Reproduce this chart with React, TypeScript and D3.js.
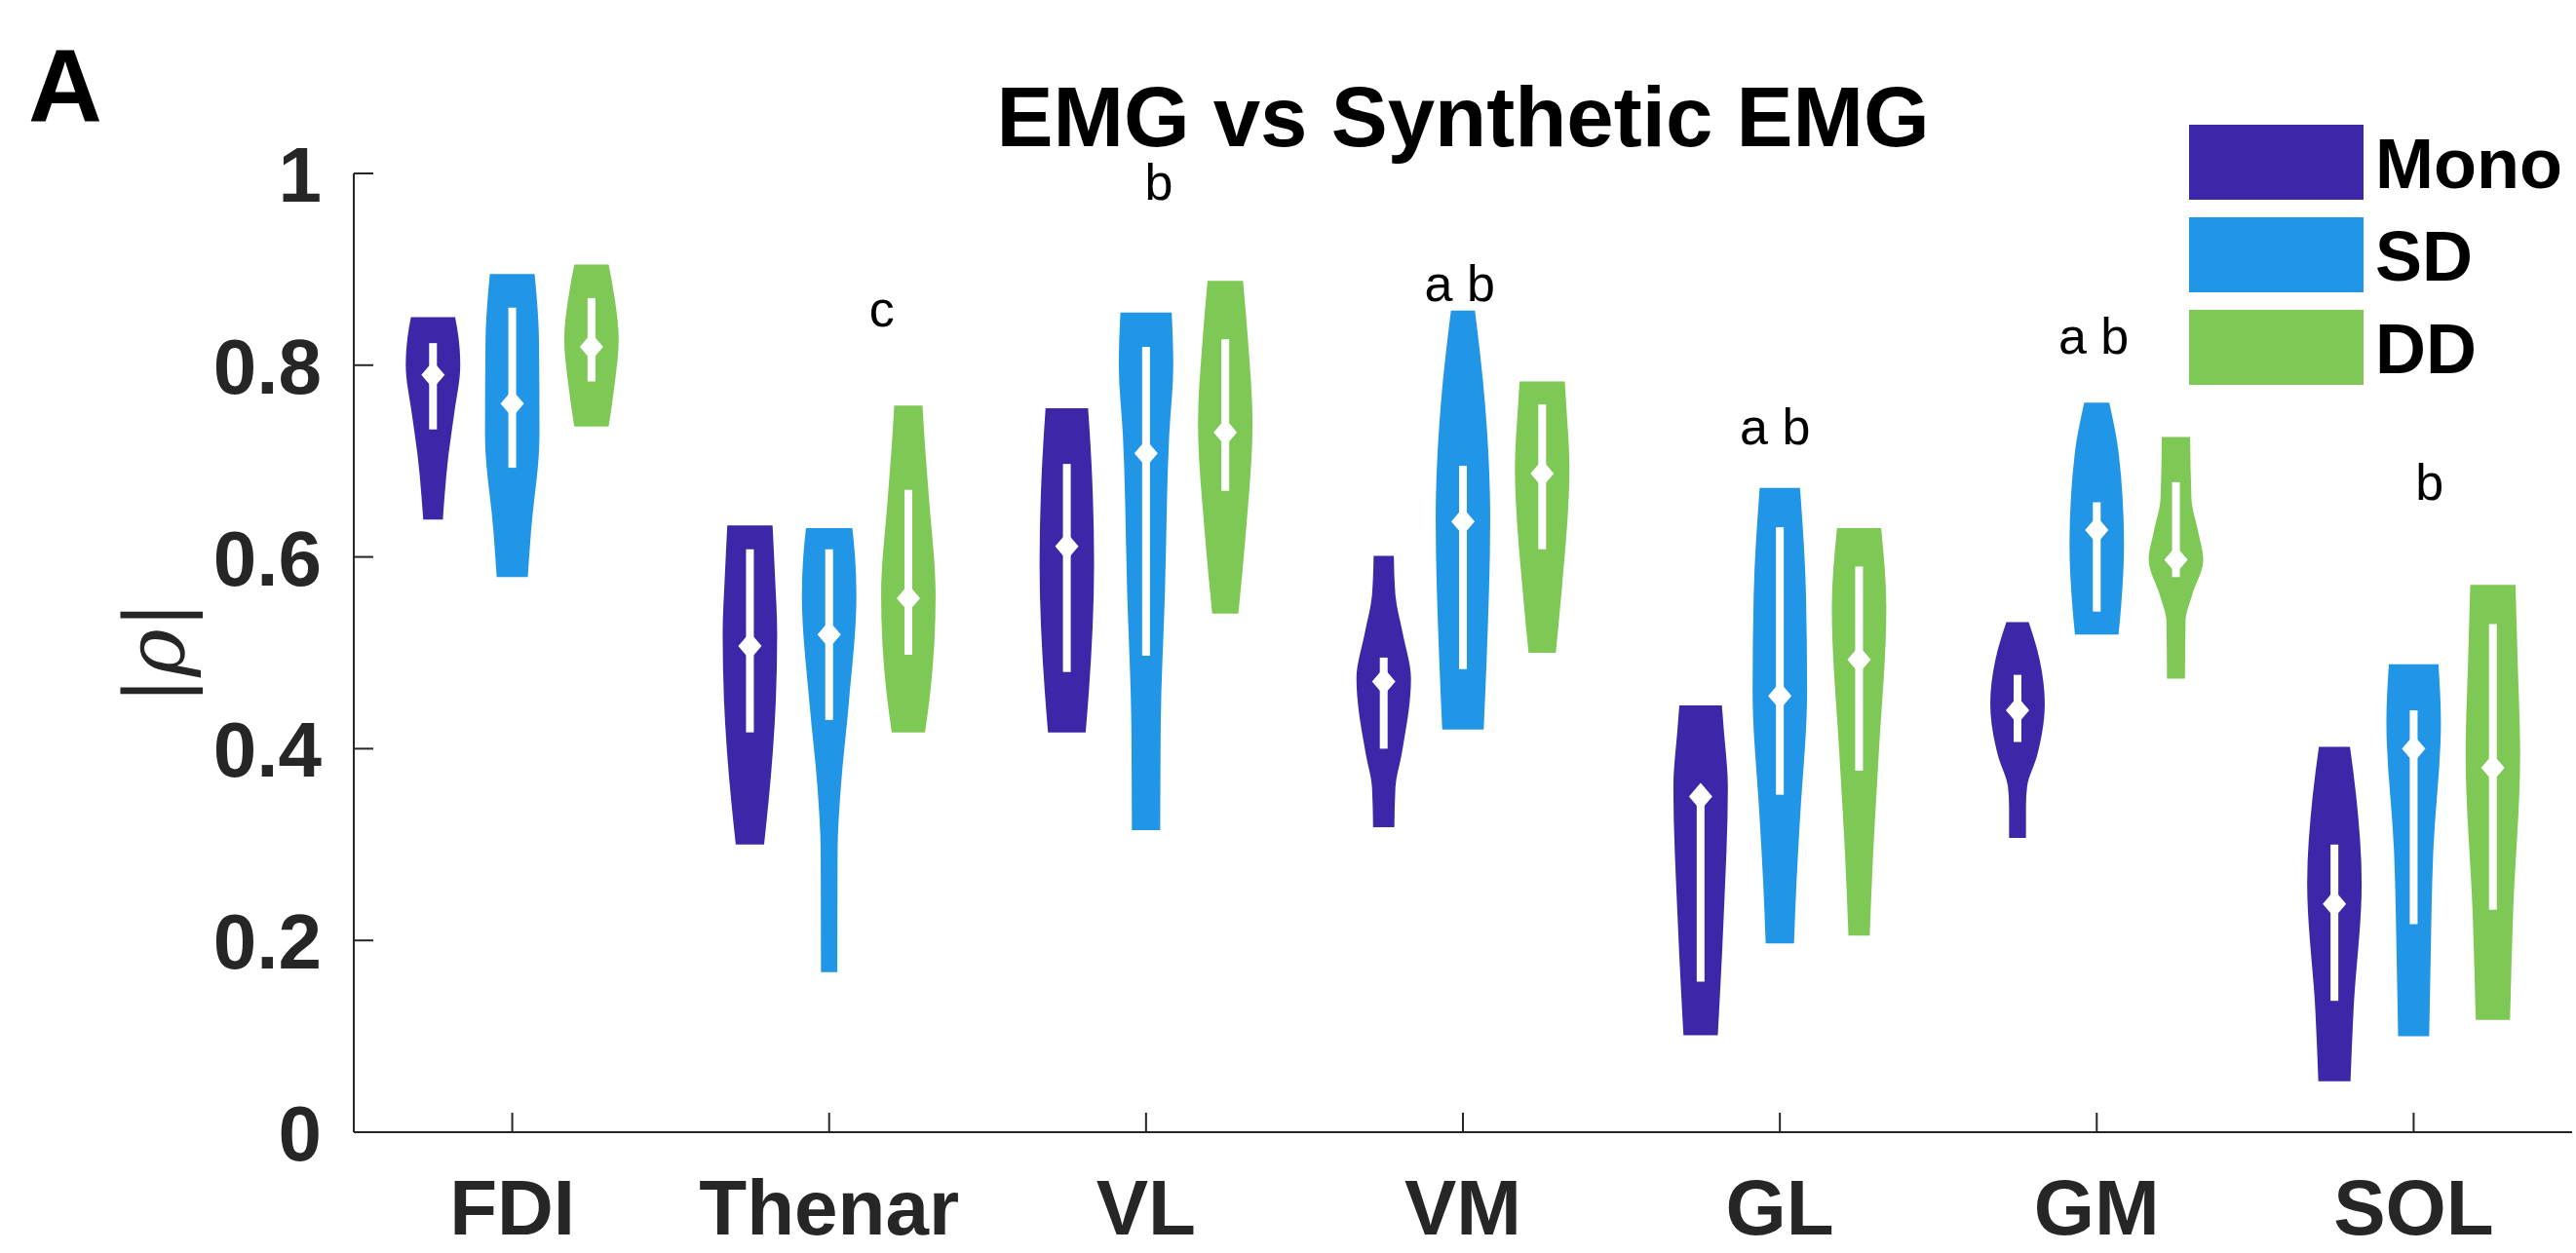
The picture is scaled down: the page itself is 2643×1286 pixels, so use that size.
import React from 'react';
import * as d3 from 'd3';

// ---------- data ----------
const categories = ['FDI', 'Thenar', 'VL', 'VM', 'GL', 'GM', 'SOL'];
const seriesNames = ['Mono', 'SD', 'DD'];
const seriesColors = ['#3E26A8', '#2196E6', '#7EC856'];
const seriesOffsets = [-0.25, 0, 0.25];
const yTicks = [0, 0.2, 0.4, 0.6, 0.8, 1];
const yTickLabels = ['0', '0.2', '0.4', '0.6', '0.8', '1'];

// violin outlines: [value, relative half-width]
const monoProfiles: [number, number][][] = [
  [[0.639, 0.36], [0.707, 0.57], [0.75, 0.78], [0.80, 1.0], [0.83, 0.93], [0.85, 0.81]],
  [[0.30, 0.52], [0.393, 0.83], [0.45, 0.95], [0.52, 1.0], [0.58, 0.92], [0.633, 0.83]],
  [[0.417, 0.69], [0.46, 0.81], [0.593, 1.0], [0.70, 0.9], [0.755, 0.78]],
  [[0.318, 0.39], [0.36, 0.43], [0.393, 0.65], [0.473, 1.0], [0.52, 0.7], [0.56, 0.43], [0.601, 0.37]],
  [[0.101, 0.63], [0.227, 0.85], [0.36, 1.0], [0.42, 0.85], [0.445, 0.78]],
  [[0.307, 0.31], [0.34, 0.31], [0.36, 0.35], [0.393, 0.72], [0.447, 1.0], [0.493, 0.81], [0.532, 0.41]],
  [[0.053, 0.59], [0.127, 0.7], [0.26, 1.0], [0.35, 0.8], [0.402, 0.57]],
];
const sdProfiles: [number, number][][] = [
  [[0.579, 0.57], [0.627, 0.69], [0.727, 1.0], [0.827, 0.98], [0.87, 0.9], [0.895, 0.82]],
  [[0.167, 0.30], [0.293, 0.31], [0.36, 0.43], [0.447, 0.72], [0.56, 1.0], [0.60, 0.95], [0.63, 0.85]],
  [[0.315, 0.52], [0.427, 0.54], [0.56, 0.69], [0.727, 0.85], [0.80, 1.0], [0.855, 0.94]],
  [[0.42, 0.76], [0.493, 0.87], [0.64, 1.0], [0.76, 0.81], [0.857, 0.44]],
  [[0.197, 0.52], [0.26, 0.61], [0.327, 0.74], [0.46, 1.0], [0.56, 0.96], [0.672, 0.74]],
  [[0.519, 0.8], [0.547, 0.89], [0.613, 1.0], [0.707, 0.81], [0.761, 0.46]],
  [[0.10, 0.57], [0.16, 0.61], [0.293, 0.72], [0.427, 1.0], [0.488, 0.91]],
];
const ddProfiles: [number, number][][] = [
  [[0.736, 0.63], [0.78, 0.85], [0.827, 1.0], [0.87, 0.85], [0.905, 0.63]],
  [[0.417, 0.61], [0.46, 0.81], [0.56, 1.0], [0.66, 0.76], [0.72, 0.6], [0.758, 0.52]],
  [[0.541, 0.48], [0.627, 0.76], [0.74, 1.0], [0.82, 0.85], [0.888, 0.65]],
  [[0.50, 0.5], [0.56, 0.7], [0.693, 1.0], [0.76, 0.88], [0.783, 0.83]],
  [[0.205, 0.39], [0.293, 0.52], [0.393, 0.72], [0.547, 1.0], [0.63, 0.81]],
  [[0.473, 0.33], [0.533, 0.35], [0.56, 0.59], [0.597, 1.0], [0.627, 0.81], [0.66, 0.57], [0.725, 0.52]],
  [[0.117, 0.63], [0.227, 0.74], [0.393, 1.0], [0.50, 0.9], [0.571, 0.83]],
];

// [lower quartile, median, upper quartile]
const monoStats = [
  [0.733, 0.79, 0.823], [0.417, 0.507, 0.608], [0.48, 0.611, 0.697], [0.40, 0.47, 0.495],
  [0.157, 0.35, 0.36], [0.407, 0.44, 0.477], [0.137, 0.238, 0.30],
];
const sdStats = [
  [0.693, 0.76, 0.86], [0.43, 0.519, 0.608], [0.497, 0.708, 0.819], [0.483, 0.637, 0.695],
  [0.352, 0.455, 0.631], [0.543, 0.628, 0.657], [0.217, 0.40, 0.44],
];
const ddStats = [
  [0.783, 0.819, 0.87], [0.498, 0.557, 0.67], [0.669, 0.73, 0.827], [0.608, 0.687, 0.759],
  [0.377, 0.493, 0.59], [0.579, 0.597, 0.678], [0.232, 0.38, 0.53],
];

// significance letters
const letterText = ['', 'c', 'b', 'a b', 'a b', 'a b', 'b'];
const letterLevel = [0, 0.84, 0.973, 0.867, 0.717, 0.812, 0.66];
const letterShift = [0, 0.166, 0.04, -0.01, -0.015, -0.01, 0.05];

const allProfiles = [monoProfiles, sdProfiles, ddProfiles];
const allStats = [monoStats, sdStats, ddStats];

// ---------- chart ----------
const W = 2643;
const H = 1286;
const AX = '#262626';
const FONT = '"Liberation Sans", Arial, Helvetica, sans-serif';

export default function App() {
  const x = d3.scaleLinear().domain([0.5, 7.5]).range([363, 2639]);
  const y = d3.scaleLinear().domain([0, 1]).range([1162, 178]);
  const halfW = x(0.086) - x(0);
  const tickLen = 20;

  const violins: React.ReactNode[] = [];
  allProfiles.forEach((profiles, s) => {
    profiles.forEach((prof, c) => {
      const cx = x(c + 1 + seriesOffsets[s]);
      const area = d3
        .area<[number, number]>()
        .y((d) => y(d[0]))
        .x0((d) => cx - halfW * d[1])
        .x1((d) => cx + halfW * d[1])
        .curve(d3.curveMonotoneY);
      const [q1, med, q3] = allStats[s][c];
      const ym = y(med);
      violins.push(
        <g key={`v-${s}-${c}`}>
          <path d={area(prof) || ''} fill={seriesColors[s]} />
          <rect x={cx - 4} y={y(q3)} width={8} height={y(q1) - y(q3)} fill="#fff" />
          <path
            d={`M${cx},${ym - 14} L${cx + 12},${ym} L${cx},${ym + 14} L${cx - 12},${ym} Z`}
            fill="#fff"
          />
        </g>
      );
    });
  });

  return (
    <svg
      width={W}
      height={H}
      style={{ position: 'absolute', left: 0, top: 0, background: '#fff' }}
      xmlns="http://www.w3.org/2000/svg"
    >
      <rect x={0} y={0} width={W} height={H} fill="#fff" />
      {/* panel letter */}
      <text x={29} y={125} fontFamily={FONT} fontWeight="bold" fontSize={105} fill="#000">
        A
      </text>
      {/* title */}
      <text
        x={(x(0.5) + x(7.5)) / 2}
        y={150}
        textAnchor="middle"
        fontFamily={FONT}
        fontWeight="bold"
        fontSize={87}
        fill="#000"
      >
        EMG vs Synthetic EMG
      </text>

      {violins}

      {/* axes */}
      <line x1={x(0.5)} x2={x(0.5)} y1={y(1)} y2={y(0)} stroke={AX} strokeWidth={2} />
      <line x1={x(0.5)} x2={x(7.5)} y1={y(0)} y2={y(0)} stroke={AX} strokeWidth={2} />
      {yTicks.map((t, i) => (
        <g key={`yt-${i}`}>
          <line x1={x(0.5)} x2={x(0.5) + tickLen} y1={y(t)} y2={y(t)} stroke={AX} strokeWidth={2} />
          <text
            x={330}
            y={y(t) + 29}
            textAnchor="end"
            fontFamily={FONT}
            fontWeight="bold"
            fontSize={80}
            fill={AX}
          >
            {yTickLabels[i]}
          </text>
        </g>
      ))}
      {categories.map((cat, i) => (
        <g key={`xt-${i}`}>
          <line x1={x(i + 1)} x2={x(i + 1)} y1={y(0)} y2={y(0) - tickLen} stroke={AX} strokeWidth={2} />
          <text
            x={x(i + 1)}
            y={1267}
            textAnchor="middle"
            fontFamily={FONT}
            fontWeight="bold"
            fontSize={80}
            fill={AX}
          >
            {cat}
          </text>
        </g>
      ))}

      {/* y label */}
      <text
        transform={`translate(${188},${670}) rotate(-90)`}
        textAnchor="middle"
        fontFamily='"DejaVu Serif", serif'
        fontSize={84}
        fill={AX}
      >
        |<tspan fontStyle="italic">ρ</tspan>|
      </text>

      {/* significance letters */}
      {letterText.map((t, i) =>
        t ? (
          <text
            key={`l-${i}`}
            x={x(i + 1 + letterShift[i])}
            y={y(letterLevel[i])}
            textAnchor="middle"
            fontFamily={FONT}
            fontSize={52}
            fill="#000"
          >
            {t}
          </text>
        ) : null
      )}

      {/* legend */}
      {seriesNames.map((n, i) => (
        <g key={`lg-${i}`}>
          <rect x={2246} y={128 + i * 95} width={179} height={77} fill={seriesColors[i]} />
          <text
            x={2437}
            y={128 + i * 95 + 38.5 + 26}
            fontFamily={FONT}
            fontWeight="bold"
            fontSize={72}
            fill="#000"
          >
            {n}
          </text>
        </g>
      ))}
    </svg>
  );
}
